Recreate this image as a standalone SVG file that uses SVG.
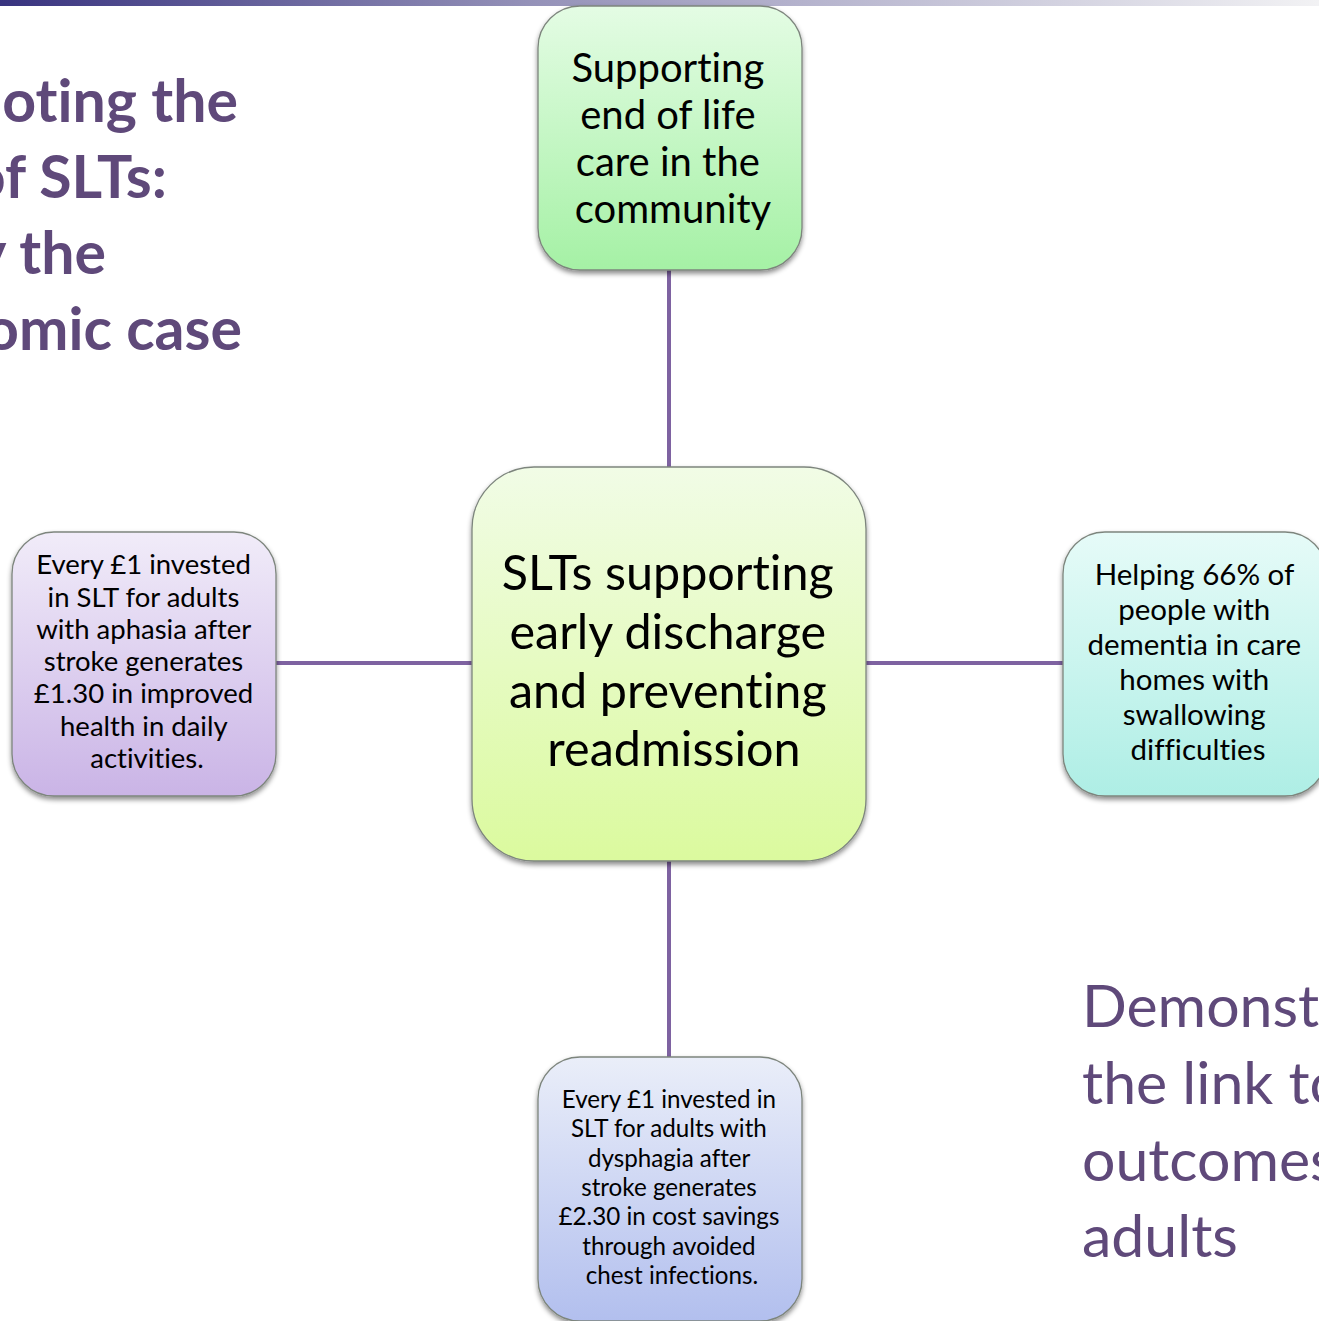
<svg xmlns="http://www.w3.org/2000/svg" width="1319" height="1321" viewBox="0 0 1319 1321">
  <defs>
    <linearGradient id="bar" x1="0" y1="0" x2="1" y2="0">
      <stop offset="0" stop-color="#38337f"/>
      <stop offset="0.4" stop-color="#9491b8"/>
      <stop offset="1" stop-color="#f2f2f4"/>
    </linearGradient>
    <linearGradient id="g-green" x1="0" y1="0" x2="0" y2="1">
      <stop offset="0" stop-color="#e4fce4"/>
      <stop offset="1" stop-color="#a5f1a5"/>
    </linearGradient>
    <linearGradient id="g-lime" x1="0" y1="0" x2="0" y2="1">
      <stop offset="0" stop-color="#f1fce6"/>
      <stop offset="1" stop-color="#dbfa9e"/>
    </linearGradient>
    <linearGradient id="g-lilac" x1="0" y1="0" x2="0" y2="1">
      <stop offset="0" stop-color="#f1ecf9"/>
      <stop offset="1" stop-color="#cab4e6"/>
    </linearGradient>
    <linearGradient id="g-aqua" x1="0" y1="0" x2="0" y2="1">
      <stop offset="0" stop-color="#e6fbf8"/>
      <stop offset="1" stop-color="#aeeee5"/>
    </linearGradient>
    <linearGradient id="g-blue" x1="0" y1="0" x2="0" y2="1">
      <stop offset="0" stop-color="#eaeef9"/>
      <stop offset="1" stop-color="#b2bfee"/>
    </linearGradient>
    <filter id="shadow" x="-10%" y="-10%" width="120%" height="125%">
      <feDropShadow dx="0" dy="3" stdDeviation="2.5" flood-color="#000" flood-opacity="0.45"/>
    </filter>
  </defs>
  <style>
    text { font-variant-ligatures: none; }
    .box { stroke: #7d857d; stroke-width: 1.3; filter: url(#shadow); }
    .lbl { font-family: Lato, "Open Sans", sans-serif; fill: #000; text-anchor: middle; }
    .link { stroke: #7e62a1; stroke-width: 4; fill: none; }
    .title { font-family: Lato, "Open Sans", sans-serif; fill: #5f497a; font-size: 59px; }
  </style>

  <rect width="1319" height="1321" fill="#fff"/>
  <rect x="0" y="0" width="1319" height="6" fill="url(#bar)"/>

  <!-- heading, left -->
  <g id="heading" class="title" font-weight="bold" text-anchor="end" font-size="60">
    <text x="238" y="122">oting the</text>
    <text x="167" y="198">of SLTs:</text>
    <text x="106" y="274">y the</text>
    <text x="242" y="350">omic case</text>
  </g>

  <!-- heading, bottom right -->
  <g id="subheading" class="title">
    <text x="1082" y="1027">Demonst</text>
    <text x="1082" y="1104">the link to</text>
    <text x="1082" y="1181">outcomes</text>
    <text x="1082" y="1257">adults</text>
  </g>

  <!-- spokes -->
  <g id="connectors">
    <line class="link" x1="669" y1="268" x2="669" y2="468"/>
    <line class="link" x1="669" y1="860" x2="669" y2="1058"/>
    <line class="link" x1="274" y1="663" x2="473" y2="663"/>
    <line class="link" x1="865" y1="663" x2="1064" y2="663"/>
  </g>

  <g id="node-top">
    <rect class="box" x="538" y="6" width="264" height="264" rx="42" fill="url(#g-green)"/>
    <text class="lbl" font-size="40">
      <tspan x="673" y="82">Supporting</tspan>
      <tspan x="673" y="129">end of life</tspan>
      <tspan x="673" y="176">care in the</tspan>
      <tspan x="673" y="223">community</tspan>
    </text>
  </g>

  <g id="node-center">
    <rect class="box" x="472" y="467" width="394" height="394" rx="62" fill="url(#g-lime)"/>
    <text class="lbl" font-size="48.5">
      <tspan x="674" y="590">SLTs supporting</tspan>
      <tspan x="674" y="649">early discharge</tspan>
      <tspan x="674" y="708">and preventing</tspan>
      <tspan x="674" y="766">readmission</tspan>
    </text>
  </g>

  <g id="node-left">
    <rect class="box" x="12" y="532" width="264" height="264" rx="42" fill="url(#g-lilac)"/>
    <text class="lbl" font-size="27.5">
      <tspan x="147" y="574">Every £1 invested</tspan>
      <tspan x="147" y="607">in SLT for adults</tspan>
      <tspan x="147" y="639">with aphasia after</tspan>
      <tspan x="147" y="671">stroke generates</tspan>
      <tspan x="147" y="703">£1.30 in improved</tspan>
      <tspan x="147" y="736">health in daily</tspan>
      <tspan x="147" y="768">activities.</tspan>
    </text>
  </g>

  <g id="node-right">
    <rect class="box" x="1063" y="532" width="264" height="264" rx="42" fill="url(#g-aqua)"/>
    <text class="lbl" font-size="29.5">
      <tspan x="1198" y="585">Helping 66% of</tspan>
      <tspan x="1198" y="620">people with</tspan>
      <tspan x="1198" y="655">dementia in care</tspan>
      <tspan x="1198" y="690">homes with</tspan>
      <tspan x="1198" y="725">swallowing</tspan>
      <tspan x="1198" y="760">difficulties</tspan>
    </text>
  </g>

  <g id="node-bottom">
    <rect class="box" x="538" y="1057" width="264" height="264" rx="42" fill="url(#g-blue)"/>
    <text class="lbl" font-size="24.2">
      <tspan x="672" y="1108">Every £1 invested in</tspan>
      <tspan x="672" y="1137">SLT for adults with</tspan>
      <tspan x="672" y="1167">dysphagia after</tspan>
      <tspan x="672" y="1196">stroke generates</tspan>
      <tspan x="672" y="1225">£2.30 in cost savings</tspan>
      <tspan x="672" y="1255">through avoided</tspan>
      <tspan x="672" y="1284">chest infections.</tspan>
    </text>
  </g>
</svg>
